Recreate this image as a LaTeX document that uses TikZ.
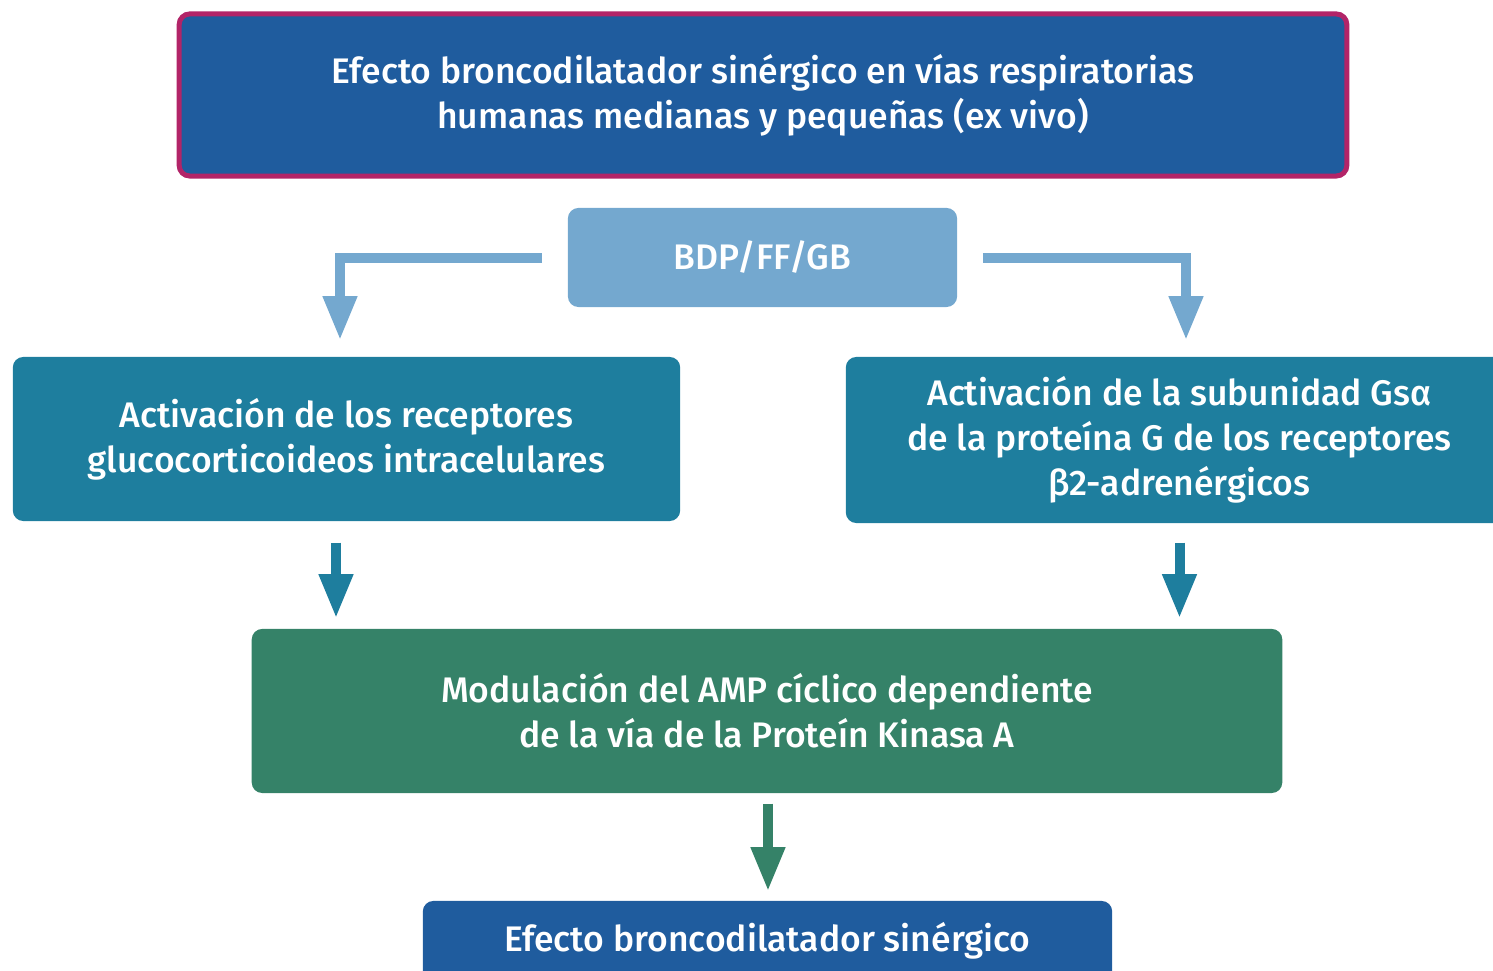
\documentclass[tikz,border=0pt]{standalone}
\usepackage{fontspec}
\setmainfont{Fira Sans}[UprightFont=* Medium]
\usepackage{tikz}
\usetikzlibrary{positioning,arrows.meta,calc}
\definecolor{azul}{HTML}{1F5C9E}
\definecolor{magenta}{HTML}{B22468}
\definecolor{celeste}{HTML}{74A8CF}
\definecolor{turquesa}{HTML}{1E7E9E}
\definecolor{verde}{HTML}{358268}

\begin{document}
\begin{tikzpicture}[
  x=0.01cm, y=-0.01cm,
  font=\fontsize{10.1}{12.8}\selectfont,
  box/.style={rounded corners=3pt, align=center, text=white, inner sep=0pt},
  bigbox/.style={box, minimum width=6.67cm, minimum height=1.64cm},
  arr/.style={line width=0.1cm, -{Triangle[length=0.44cm, width=0.32cm]}},
  lightarr/.style={arr, draw=celeste},
  tealarr/.style={arr, draw=turquesa},
  greenarr/.style={arr, draw=verde}
]
\useasboundingbox (0,0) rectangle (1493,971);
\clip (0,0) rectangle (1493,971);
\node[box, fill=azul, draw=magenta, line width=0.05cm, minimum width=11.67cm,
  minimum height=1.62cm] (sinerg) at (763,95)
  {Efecto broncodilatador sinérgico en vías respiratorias\\humanas medianas y pequeñas (ex vivo)};
\node[box, fill=celeste, minimum width=3.89cm, minimum height=0.99cm] (bdp) at (762.5,257.5) {BDP/FF/GB};
\node[bigbox, fill=turquesa] (recgc) at (346.5,439)
  {Activación de los receptores\\glucocorticoideos intracelulares};
\node[bigbox, fill=turquesa, minimum height=1.66cm] (recb2) at (1179.5,440)
  {Activación de la subunidad Gsα\\de la proteína G de los receptores\\β2-adrenérgicos};
\node[bigbox, fill=verde, minimum width=10.30cm] (modul) at (767,711)
  {Modulación del AMP cíclico dependiente\\de la vía de la Proteín Kinasa A};
\node[box, fill=azul, minimum width=6.89cm, minimum height=0.80cm] (efecto) at (767.5,941)
  {Efecto broncodilatador sinérgico};
% flechas
\draw[lightarr] ($(bdp.west)+(-25,1)$) -| ($(recgc.north)+(-6.5,-16)$);
\draw[lightarr] ($(bdp.east)+(25,1)$) -| ($(recb2.north)+(6.5,-16)$);
\draw[tealarr] ($(recgc.south)+(-10.5,21)$) -- ($(recgc.south |- modul.north)+(-10.5,-10)$);
\draw[tealarr] ($(recb2.south)+(0,19)$) -- ($(recb2.south |- modul.north)+(0,-10)$);
\draw[greenarr] ($(modul.south)+(1,10)$) -- ($(efecto.north)+(0.5,-9)$);
\end{tikzpicture}
\end{document}
